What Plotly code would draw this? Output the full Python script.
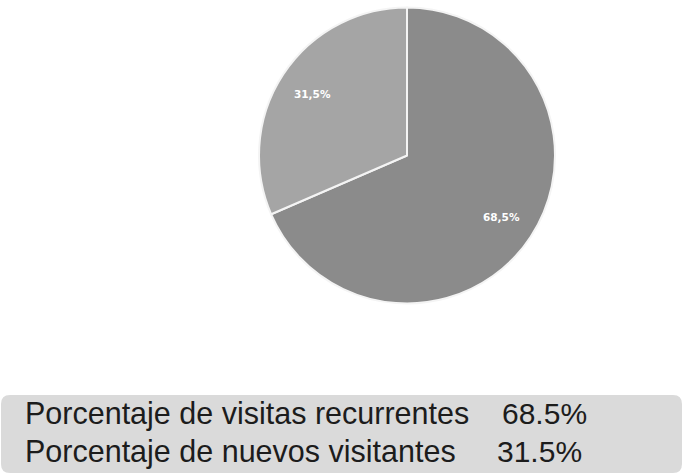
import math
import plotly.graph_objects as go

labels = ["Porcentaje de visitas recurrentes", "Porcentaje de nuevos visitantes"]
values = [68.5, 31.5]
value_labels = ["68.5%", "31.5%"]
colors = ["#8b8b8b", "#a5a5a5"]

W, H = 686, 476
cx, cy, r = 407, 155.5, 148

fig = go.Figure()
fig.add_trace(go.Pie(
    labels=labels, values=values, sort=False, direction="clockwise", rotation=0,
    marker=dict(colors=colors, line=dict(color="#f4f4f4", width=2)),
    textinfo="none", showlegend=False, hoverinfo="label+percent",
    domain=dict(x=[(cx - r) / W, (cx + r) / W], y=[1 - (cy + r) / H, 1 - (cy - r) / H]),
))

annotations = []
# slice percentage labels placed at mid-angle, 0.76 radius (clockwise from 12 o'clock)
total = sum(values)
start = 0.0
for v in values:
    mid = (start + v / 2) / total * 2 * math.pi
    start += v
    px = cx + 0.76 * r * math.sin(mid)
    py = cy - 0.76 * r * math.cos(mid)
    txt = ("%.1f%%" % (v / total * 100)).replace(".", ",")
    annotations.append(dict(xref="paper", yref="paper", x=px / W, y=1 - py / H,
                            xanchor="center", yanchor="middle", text="<b>" + txt + "</b>",
                            showarrow=False,
                            font=dict(family="DejaVu Sans", size=10.5, color="white")))

# bottom band (rounded rectangle)
x0, x1, y0, y1, rr = 1, 682, 395, 473, 9
def P(x, y):
    return "%f,%f" % (x / W, 1 - y / H)
path = ("M " + P(x0 + rr, y0) + " L " + P(x1 - rr, y0) + " Q " + P(x1, y0) + " " + P(x1, y0 + rr) +
        " L " + P(x1, y1 - rr) + " Q " + P(x1, y1) + " " + P(x1 - rr, y1) +
        " L " + P(x0 + rr, y1) + " Q " + P(x0, y1) + " " + P(x0, y1 - rr) +
        " L " + P(x0, y0 + rr) + " Q " + P(x0, y0) + " " + P(x0 + rr, y0) + " Z")
shapes = [dict(type="path", xref="paper", yref="paper", path=path,
               fillcolor="#dadada", line=dict(width=0), layer="below")]

row_y = [413, 451.5]
val_x = [500, 495]
for i, (lab, val) in enumerate(zip(labels, value_labels)):
    annotations.append(dict(xref="paper", yref="paper", x=23 / W, y=1 - row_y[i] / H,
                            xanchor="left", yanchor="middle", text=lab, showarrow=False,
                            font=dict(family="Liberation Sans, Arial", size=30.5, color="#1c1c1c")))
    annotations.append(dict(xref="paper", yref="paper", x=val_x[i] / W, y=1 - row_y[i] / H,
                            xanchor="left", yanchor="middle", text=val, showarrow=False,
                            font=dict(family="Liberation Sans, Arial", size=30, color="#1c1c1c")))

fig.update_layout(width=W, height=H, margin=dict(l=0, r=0, t=0, b=0),
                  paper_bgcolor="white", plot_bgcolor="white",
                  shapes=shapes, annotations=annotations)
fig.write_html("out.html", config={"displayModeBar": False},
               post_script="document.body.style.margin='0';document.body.style.overflow='hidden';")
